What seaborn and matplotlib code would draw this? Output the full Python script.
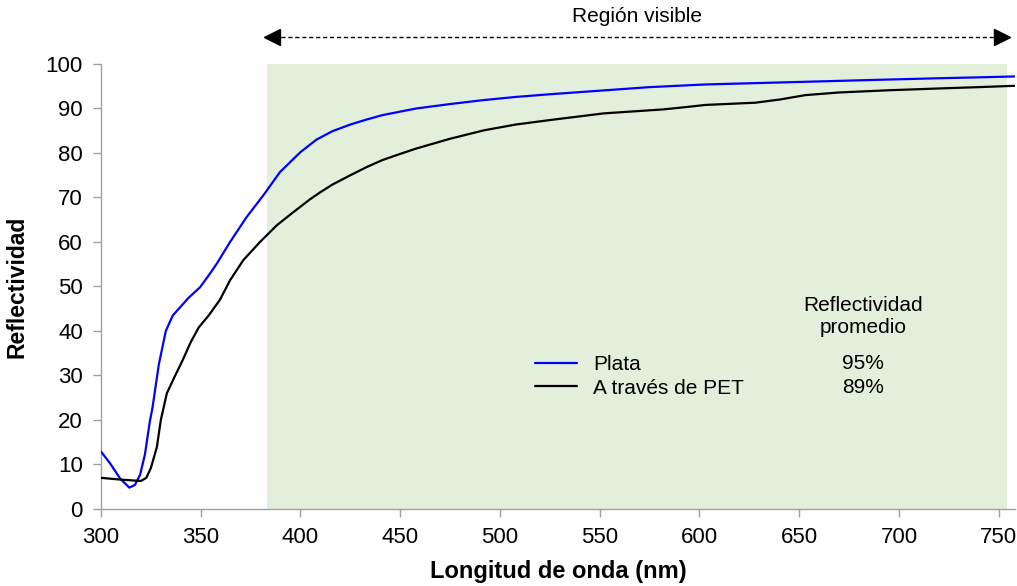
import matplotlib
matplotlib.use("Agg")
import matplotlib.pyplot as plt
from matplotlib.transforms import offset_copy
import numpy as np
import pandas as pd
import seaborn as sns

# ── data ──────────────────────────────────────────────────────────────────────
wl_plata = [300, 304.5, 309.5, 314.2, 317, 319.6, 322, 324.5, 325.8, 329, 332.5, 336,
            339.6, 344, 349.6, 354, 358, 364.7, 373, 381.4, 389.7, 400, 408, 416, 425,
            433, 441, 450, 458, 475, 492, 508, 525, 550, 575, 603, 628, 653, 686, 720,
            740, 758]
refl_plata = [12.9, 10.3, 6.9, 4.8, 5.4, 7.7, 12.2, 19.7, 22.7, 32.5, 40.0, 43.5,
              45.3, 47.5, 49.8, 52.5, 55.1, 60.0, 65.6, 70.5, 75.7, 80.2, 83.0, 84.9,
              86.4, 87.5, 88.5, 89.3, 90.0, 91.0, 91.9, 92.6, 93.2, 94.0, 94.8, 95.4,
              95.7, 96.0, 96.4, 96.8, 97.0, 97.2]

wl_pet = [300, 310, 320, 322.7, 325, 328, 330, 333, 337, 341, 345, 349, 354, 359.6,
          364.7, 371.3, 379.7, 388, 396.4, 404.8, 410, 416, 425, 433, 441, 450, 458,
          475, 492, 508, 525, 552, 582, 595, 603, 628, 640, 653, 670, 695, 720, 740,
          758]
refl_pet = [7.0, 6.6, 6.3, 7.0, 9.2, 13.9, 20.0, 26.0, 29.8, 33.5, 37.5, 40.8, 43.5,
            47.0, 51.4, 55.9, 60.0, 63.7, 66.7, 69.6, 71.2, 72.9, 75.0, 76.8, 78.4,
            79.8, 81.0, 83.2, 85.1, 86.4, 87.4, 88.9, 89.8, 90.4, 90.8, 91.3, 92.0,
            93.0, 93.6, 94.1, 94.5, 94.8, 95.1]

series_names = ["Plata", "A través de PET"]
promedio = ["95%", "89%"]
visible_range = (383, 754)

df = pd.concat([
    pd.DataFrame({"wl": wl_plata, "refl": refl_plata, "serie": series_names[0]}),
    pd.DataFrame({"wl": wl_pet, "refl": refl_pet, "serie": series_names[1]}),
])

# ── plot ──────────────────────────────────────────────────────────────────────
sns.set_style("white")
plt.rcParams["font.family"] = ["Liberation Sans", "DejaVu Sans"]
plt.rcParams["text.color"] = "black"
plt.rcParams["axes.labelcolor"] = "black"
FS = 15

fig = plt.figure(figsize=(10.17, 5.86), dpi=100)
ax = fig.add_axes([0.0993, 0.1314, 0.8984, 0.7594])

ax.axvspan(*visible_range, color="#e2efda", lw=0, zorder=0)

sns.lineplot(data=df, x="wl", y="refl", hue="serie", hue_order=series_names,
             palette={series_names[0]: "#0000ff", series_names[1]: "black"},
             linewidth=1.6, ax=ax, zorder=3)

ax.set_xlim(300, 758)
ax.set_ylim(0, 100)
ax.set_xticks(np.arange(300, 751, 50))
ax.set_yticks(np.arange(0, 101, 10))
ax.tick_params(axis="both", labelsize=16, length=6, width=1, color="#a0a0a0",
               labelcolor="black", direction="out", bottom=True, left=True, pad=7)
for side in ["top", "right"]:
    ax.spines[side].set_visible(False)
for side in ["left", "bottom"]:
    ax.spines[side].set_color("#a0a0a0")
    ax.spines[side].set_linewidth(1)

ax.set_xlabel("Longitud de onda (nm)", fontsize=17, fontweight="bold", color="black")
ax.set_ylabel("Reflectividad", fontsize=16.5, fontweight="bold", color="black")
ax.xaxis.set_label_coords(0.5, -0.115)
ax.yaxis.set_label_coords(-0.079, 0.5)

handles, labels = ax.get_legend_handles_labels()
leg = ax.legend(handles, labels, loc="upper left", bbox_to_anchor=(0.466, 0.364),
                frameon=False, fontsize=FS, handlelength=2.0, handletextpad=0.8,
                labelspacing=0.2, borderaxespad=0)
for t in leg.get_texts():
    t.set_color("black")

col_x = (863 - 101) / 913.5
ax.text(col_x, 0.433, "Reflectividad\npromedio", transform=ax.transAxes,
        ha="center", va="center", fontsize=FS, linespacing=1.2, color="black")
ax.text(col_x, 0.328, promedio[0], transform=ax.transAxes,
        ha="center", va="center", fontsize=FS, color="black")
ax.text(col_x, 0.272, promedio[1], transform=ax.transAxes,
        ha="center", va="center", fontsize=FS, color="black")

# Región visible arrow above the axes
trans = ax.get_xaxis_transform()
ax.plot(visible_range, [1.061, 1.061], transform=trans, color="black", lw=1,
        linestyle=(0, (3, 2)), clip_on=False)
ax.plot([visible_range[0]], [1.061], transform=offset_copy(trans, fig=fig, x=5, units="dots"),
        marker="<", color="black", markersize=11, clip_on=False)
ax.plot([visible_range[1]], [1.061], transform=offset_copy(trans, fig=fig, x=-5, units="dots"),
        marker=">", color="black", markersize=11, clip_on=False)
ax.text(sum(visible_range) / 2, 1.107, "Región visible", transform=trans,
        ha="center", va="center", fontsize=FS, color="black")

fig.savefig("out.png", dpi=100)
